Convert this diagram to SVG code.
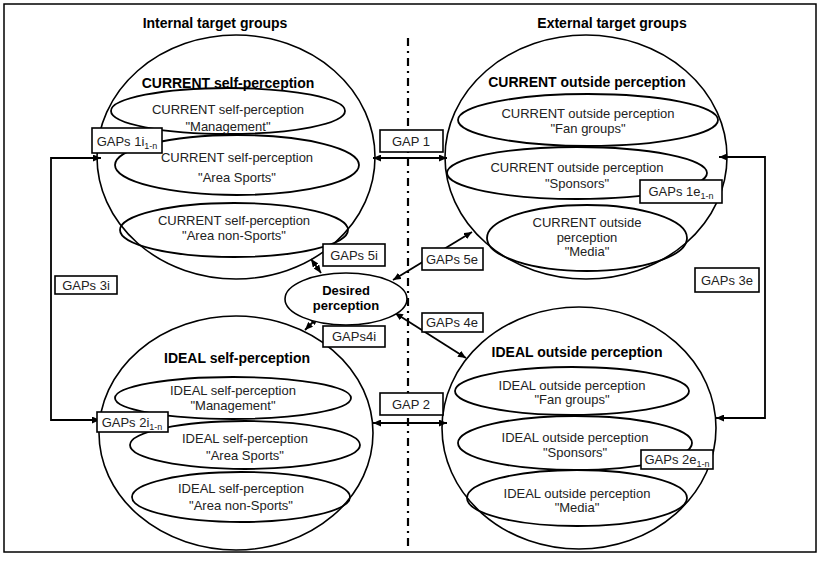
<svg xmlns="http://www.w3.org/2000/svg" width="820" height="564" viewBox="0 0 820 564">
  <style>
    .frame { fill: #ffffff; stroke: #000; stroke-width: 1.5; }
    .big { fill: none; stroke: #000; stroke-width: 1.6; }
    .sub { fill: none; stroke: #000; stroke-width: 1.8; }
    .box { fill: #ffffff; stroke: #000; stroke-width: 1.6; }
    .wire { fill: none; stroke: #000; stroke-width: 1.8; }
    .axis { fill: none; stroke: #000; stroke-width: 2.2; stroke-dasharray: 8 5 2 5; }
    text { font-family: "Liberation Sans", Arial, sans-serif; font-size: 13px; fill: #222; text-anchor: middle; }
    .bold { font-weight: bold; fill: #000; }
    .title { font-weight: bold; font-size: 14px; fill: #000; }
    .sc { font-size: 9px; }
  </style>
  <defs>
    <marker id="arrow" viewBox="0 0 10 10" refX="10" refY="5" markerWidth="8" markerHeight="7" markerUnits="userSpaceOnUse" orient="auto-start-reverse" preserveAspectRatio="none">
      <path d="M0,0 L10,5 L0,10 z" fill="#000"/>
    </marker>
  </defs>

  <rect class="frame" x="4" y="4" width="812" height="548"/>

  <!-- divider between internal and external groups -->
  <line class="axis" x1="408" y1="38" x2="408" y2="551"/>

  <text class="title" x="215" y="28">Internal target groups</text>
  <text class="title" x="612" y="28">External target groups</text>

  <!-- CURRENT self-perception -->
  <g id="current-self">
    <ellipse class="big" cx="236" cy="157" rx="139" ry="122"/>
    <text class="title" x="228" y="88">CURRENT self-perception</text>
    <ellipse class="sub" cx="228" cy="111" rx="117" ry="23"/>
    <text x="228" y="114">CURRENT self-perception</text>
    <text x="228" y="131">"Management"</text>
    <ellipse class="sub" cx="237" cy="165" rx="122" ry="30"/>
    <text x="237" y="162">CURRENT self-perception</text>
    <text x="237" y="182">"Area Sports"</text>
    <ellipse class="sub" cx="234" cy="230" rx="114" ry="27"/>
    <text x="234" y="225">CURRENT self-perception</text>
    <text x="234" y="240">"Area non-Sports"</text>
  </g>

  <!-- IDEAL self-perception -->
  <g id="ideal-self">
    <ellipse class="big" cx="236" cy="433" rx="137" ry="117"/>
    <text class="title" x="237" y="363">IDEAL self-perception</text>
    <ellipse class="sub" cx="233" cy="398" rx="118" ry="21"/>
    <text x="233" y="395">IDEAL self-perception</text>
    <text x="233" y="410">"Management"</text>
    <ellipse class="sub" cx="245" cy="445" rx="115" ry="24"/>
    <text x="245" y="443">IDEAL self-perception</text>
    <text x="245" y="460">"Area Sports"</text>
    <ellipse class="sub" cx="241" cy="497" rx="109" ry="25"/>
    <text x="241" y="493">IDEAL self-perception</text>
    <text x="241" y="510">"Area non-Sports"</text>
  </g>

  <!-- CURRENT outside perception -->
  <g id="current-outside">
    <ellipse class="big" cx="586" cy="157" rx="141" ry="122"/>
    <text class="title" x="587" y="87">CURRENT outside perception</text>
    <ellipse class="sub" cx="588" cy="120" rx="130" ry="26"/>
    <text x="588" y="118">CURRENT outside perception</text>
    <text x="588" y="133">"Fan groups"</text>
    <ellipse class="sub" cx="577" cy="173" rx="130" ry="26"/>
    <text x="577" y="172">CURRENT outside perception</text>
    <text x="577" y="188">"Sponsors"</text>
    <ellipse class="sub" cx="587" cy="238" rx="100" ry="33"/>
    <text x="587" y="227">CURRENT outside</text>
    <text x="587" y="242">perception</text>
    <text x="587" y="256">"Media"</text>
  </g>

  <!-- IDEAL outside perception -->
  <g id="ideal-outside">
    <ellipse class="big" cx="579" cy="428" rx="137" ry="121"/>
    <text class="title" x="577" y="357">IDEAL outside perception</text>
    <ellipse class="sub" cx="572" cy="391" rx="117" ry="24"/>
    <text x="572" y="390">IDEAL outside perception</text>
    <text x="572" y="404">"Fan groups"</text>
    <ellipse class="sub" cx="575" cy="443" rx="117" ry="27"/>
    <text x="575" y="442">IDEAL outside perception</text>
    <text x="575" y="457">"Sponsors"</text>
    <ellipse class="sub" cx="577" cy="498" rx="110" ry="28"/>
    <text x="577" y="498">IDEAL outside perception</text>
    <text x="577" y="512">"Media"</text>
  </g>

  <!-- connectors -->
  <g id="connectors">
    <polyline class="wire" points="100,420 51,420 51,158 101,158" marker-start="url(#arrow)" marker-end="url(#arrow)"/>
    <polyline class="wire" points="719,157 765,157 765,418 716,418" marker-start="url(#arrow)" marker-end="url(#arrow)"/>
    <line class="wire" x1="373" y1="158" x2="447" y2="158" marker-start="url(#arrow)" marker-end="url(#arrow)"/>
    <line class="wire" x1="373" y1="423" x2="447" y2="423" marker-start="url(#arrow)" marker-end="url(#arrow)"/>
    <line class="wire" x1="311" y1="259" x2="321" y2="273" marker-start="url(#arrow)" marker-end="url(#arrow)"/>
    <line class="wire" x1="318" y1="317" x2="305" y2="330" marker-start="url(#arrow)" marker-end="url(#arrow)"/>
    <line class="wire" x1="393" y1="280" x2="472" y2="232" marker-start="url(#arrow)" marker-end="url(#arrow)"/>
    <line class="wire" x1="395" y1="313" x2="466" y2="358" marker-start="url(#arrow)" marker-end="url(#arrow)"/>
  </g>

  <g id="desired">
    <ellipse class="box" cx="346" cy="299" rx="61" ry="26"/>
    <text class="bold" x="346" y="295">Desired</text>
    <text class="bold" x="346" y="310">perception</text>
  </g>

  <!-- gap labels -->
  <g id="gap-1">
    <rect class="box" x="380" y="130" width="63" height="22"/>
    <text x="411" y="146">GAP 1</text>
  </g>
  <g id="gap-2">
    <rect class="box" x="380" y="393" width="63" height="22"/>
    <text x="411" y="409">GAP 2</text>
  </g>
  <g id="gaps-1i">
    <rect class="box" x="92" y="128" width="70" height="25"/>
    <text x="127" y="146">GAPs 1i<tspan class="sc" dy="3">1-n</tspan></text>
  </g>
  <g id="gaps-2i">
    <rect class="box" x="97" y="412" width="71" height="20"/>
    <text x="132" y="427">GAPs 2i<tspan class="sc" dy="3">1-n</tspan></text>
  </g>
  <g id="gaps-1e">
    <rect class="box" x="640" y="180" width="82" height="23"/>
    <text x="681" y="196">GAPs 1e<tspan class="sc" dy="3">1-n</tspan></text>
  </g>
  <g id="gaps-2e">
    <rect class="box" x="641" y="450" width="72" height="19"/>
    <text x="677" y="464">GAPs 2e<tspan class="sc" dy="3">1-n</tspan></text>
  </g>
  <g id="gaps-3i">
    <rect class="box" x="55" y="276" width="62" height="18"/>
    <text x="86" y="290">GAPs 3i</text>
  </g>
  <g id="gaps-3e">
    <rect class="box" x="695" y="268" width="64" height="24"/>
    <text x="727" y="285">GAPs 3e</text>
  </g>
  <g id="gaps-5i">
    <rect class="box" x="323" y="244" width="62" height="22"/>
    <text x="354" y="260">GAPs 5i</text>
  </g>
  <g id="gaps-4i">
    <rect class="box" x="323" y="326" width="62" height="21"/>
    <text x="354" y="341">GAPs4i</text>
  </g>
  <g id="gaps-5e">
    <rect class="box" x="422" y="248" width="61" height="22"/>
    <text x="452" y="264">GAPs 5e</text>
  </g>
  <g id="gaps-4e">
    <rect class="box" x="422" y="313" width="61" height="19"/>
    <text x="452" y="327">GAPs 4e</text>
  </g>
</svg>
